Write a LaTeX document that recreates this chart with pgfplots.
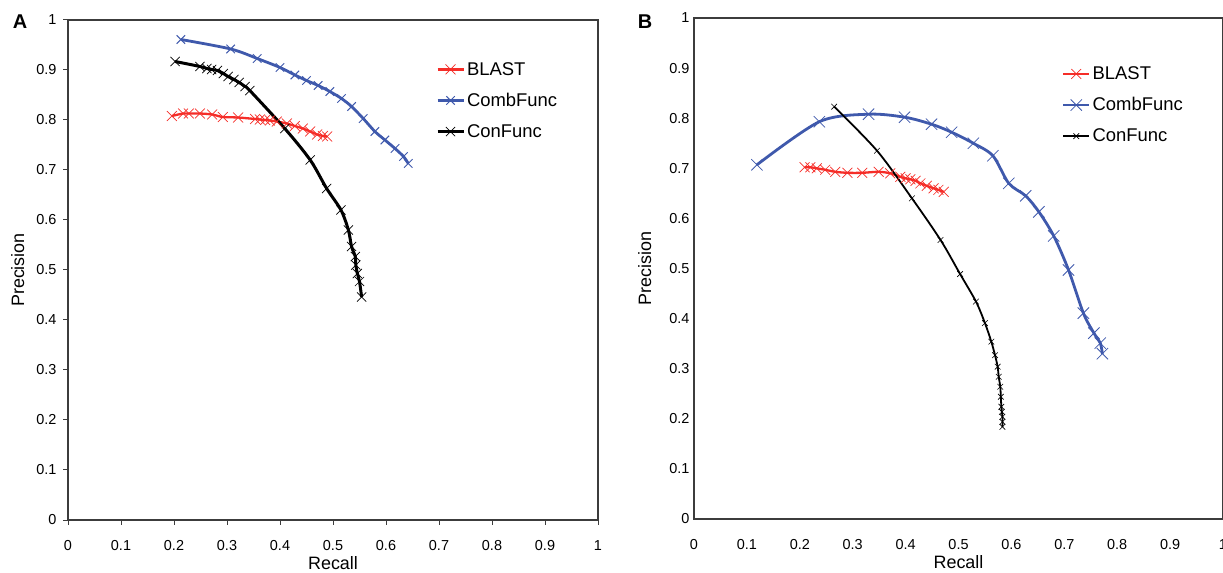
\documentclass[border=0pt]{standalone}
\usepackage{fontspec}
\setmainfont{Liberation Sans}
\usepackage{pgfplots}
\pgfplotsset{compat=1.18}
\definecolor{cred}{RGB}{245,45,40}
\definecolor{cblue}{RGB}{63,89,172}
\definecolor{caxis}{RGB}{60,60,60}
\pgfplotsset{
  common/.style={
    scale only axis,
    xmin=0,xmax=1,ymin=0,ymax=1,
    xtick={0,0.1,0.2,0.3,0.4,0.5,0.6,0.7,0.8,0.9,1},
    ytick={0,0.1,0.2,0.3,0.4,0.5,0.6,0.7,0.8,0.9,1},
    axis line style={caxis, line width=1.2bp},
    /pgf/number format/assume math mode=true,
    tick label style={font=\fontsize{14.5}{15}\selectfont},
    label style={font=\fontsize{18}{20}\selectfont},
    xlabel=Recall, ylabel=Precision,
    xlabel style={at={(axis description cs:0.5,0)}, anchor=base, yshift=-49bp},
    legend style={draw=none, fill=none, font=\fontsize{18.5}{20}\selectfont, inner sep=0pt, row sep=12.5bp, cells={anchor=west}},
    legend image code/.code={\draw[mark repeat=2,mark phase=2,##1] plot coordinates {(0bp,0bp) (13bp,0bp) (26bp,0bp)};},
  }
}
\begin{document}
\begin{tikzpicture}
\path[use as bounding box] (0,0) rectangle (1223bp,573bp);
\begin{axis}[common, width=530bp, height=500bp, at={(68bp,53bp)}, anchor=south west,
  xtick pos=bottom, ytick pos=left, tick align=outside, major tick length=5bp,
  tick style={caxis, line width=1bp},
  xticklabel style={yshift=-12bp}, yticklabel style={xshift=-3bp},
  ylabel style={at={(axis description cs:-0.083,0.5)}, anchor=base},
  legend style={at={(axis cs:0.694,0.920)}, anchor=north west}]
\addplot[cred, line width=2.3bp, smooth, mark=x, mark size=7bp, mark options={line width=0.7bp}] coordinates {
(0.196,0.808) (0.217,0.813) (0.228,0.813) (0.249,0.813) (0.272,0.811) (0.292,0.806) (0.321,0.805) (0.353,0.802) (0.362,0.801) (0.372,0.800) (0.381,0.799) (0.394,0.797) (0.413,0.793) (0.428,0.788) (0.443,0.783) (0.457,0.777) (0.470,0.771) (0.481,0.768) (0.489,0.767)};
\addlegendentry{BLAST}
\addplot[cblue, line width=2.8bp, smooth, mark=x, mark size=6bp, mark options={line width=1bp}] coordinates {
(0.213,0.961) (0.307,0.942) (0.357,0.923) (0.400,0.905) (0.428,0.890) (0.450,0.879) (0.472,0.869) (0.494,0.857) (0.516,0.843) (0.535,0.827) (0.557,0.803) (0.579,0.777) (0.598,0.760) (0.617,0.743) (0.633,0.727) (0.642,0.713)};
\addlegendentry{CombFunc}
\addplot[black, line width=3bp, smooth, mark=x, mark size=6.5bp, mark options={line width=0.7bp}] coordinates {
(0.202,0.917) (0.249,0.907) (0.262,0.903) (0.271,0.901) (0.282,0.899) (0.293,0.893) (0.302,0.887) (0.313,0.881) (0.323,0.875) (0.334,0.867) (0.343,0.859) (0.409,0.783) (0.457,0.720) (0.488,0.663) (0.515,0.620) (0.529,0.580) (0.535,0.547) (0.542,0.527) (0.543,0.510) (0.546,0.493) (0.550,0.477) (0.554,0.446)};
\addlegendentry{ConFunc}
\end{axis}
\node[font=\fontsize{20}{20}\selectfont\bfseries] at (20bp,551bp) {A};
\begin{axis}[common, width=529bp, height=501bp, at={(694bp,54bp)}, anchor=south west,
  major tick length=0pt,
  xticklabel style={yshift=-17bp}, yticklabel style={xshift=-1bp},
  ylabel style={at={(axis description cs:-0.081,0.5)}, anchor=base},
  legend style={at={(axis cs:0.695,0.907)}, anchor=north west}]
\addplot[cred, line width=2.3bp, smooth, mark=x, mark size=7bp, mark options={line width=0.7bp}] coordinates {
(0.209,0.702) (0.220,0.702) (0.232,0.700) (0.248,0.697) (0.267,0.693) (0.290,0.691) (0.318,0.691) (0.349,0.693) (0.371,0.690) (0.390,0.683) (0.400,0.680) (0.409,0.678) (0.419,0.675) (0.428,0.670) (0.440,0.665) (0.453,0.660) (0.462,0.657) (0.472,0.653)};
\addlegendentry{BLAST}
\addplot[cblue, line width=2.8bp, smooth, mark=x, mark size=8bp, mark options={line width=0.8bp}] coordinates {
(0.119,0.707) (0.237,0.793) (0.330,0.808) (0.398,0.802) (0.449,0.788) (0.487,0.772) (0.528,0.750) (0.565,0.725) (0.595,0.670) (0.627,0.645) (0.652,0.613) (0.680,0.565) (0.708,0.497) (0.736,0.411) (0.756,0.371) (0.768,0.351) (0.772,0.330)};
\addlegendentry{CombFunc}
\addplot[black, line width=1.8bp, smooth, mark=x, mark size=4bp, mark options={line width=0.6bp}] coordinates {
(0.265,0.823) (0.346,0.735) (0.412,0.640) (0.466,0.557) (0.503,0.489) (0.533,0.434) (0.550,0.391) (0.562,0.354) (0.569,0.327) (0.574,0.304) (0.576,0.284) (0.579,0.264) (0.580,0.244) (0.581,0.224) (0.582,0.214) (0.583,0.204) (0.583,0.194) (0.583,0.184)};
\addlegendentry{ConFunc}
\end{axis}
\node[font=\fontsize{20}{20}\selectfont\bfseries] at (645bp,551bp) {B};
\end{tikzpicture}
\end{document}
